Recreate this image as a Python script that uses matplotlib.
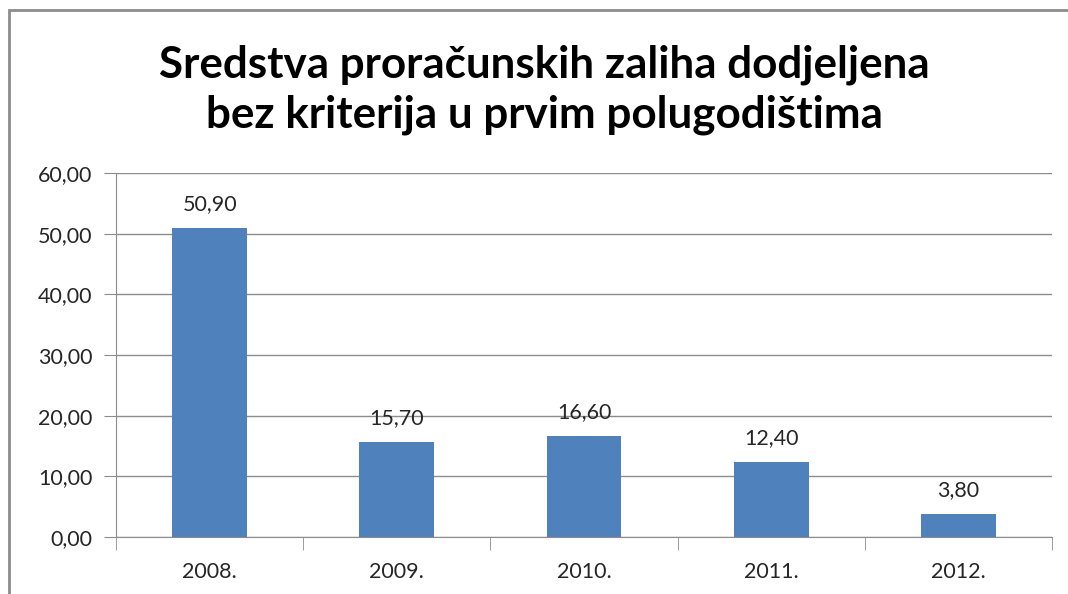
import matplotlib.pyplot as plt
from matplotlib.patches import Rectangle

years = ['2008.', '2009.', '2010.', '2011.', '2012.']
values = [50.90, 15.70, 16.60, 12.40, 3.80]
y_ticks = [0, 10, 20, 30, 40, 50, 60]

plt.rcParams['font.family'] = ['Lato', 'DejaVu Sans']

fig = plt.figure(figsize=(10.68, 5.94), dpi=100)
ax = fig.add_axes([116 / 1068, 1 - 537 / 594, 936 / 1068, 364 / 594])

x = range(len(years))
ax.bar(x, values, width=0.4, color='#4F81BD', zorder=3)

for xi, v in zip(x, values):
    ax.text(xi, v + 2.3, f'{v:.2f}'.replace('.', ','), ha='center', va='bottom',
            fontsize=15.5, color='#262626')

ax.set_xlim(-0.5, len(years) - 0.5)
ax.set_ylim(0, 60)
ax.set_yticks(y_ticks)
ax.set_yticklabels([f'{t:.2f}'.replace('.', ',') for t in y_ticks])
ax.set_xticks(list(x))
ax.set_xticklabels(years)
ax.set_xticks([i - 0.5 for i in range(len(years) + 1)], minor=True)

ax.grid(axis='y', color='#8c8c8c', linewidth=1, zorder=0)
for s in ['top', 'right']:
    ax.spines[s].set_visible(False)
for s in ['left', 'bottom']:
    ax.spines[s].set_color('#8c8c8c')
ax.tick_params(axis='y', length=9, color='#8c8c8c', labelsize=15.5, labelcolor='#262626', pad=8)
ax.tick_params(axis='x', which='major', length=0, labelsize=15.5, labelcolor='#262626', pad=18)
ax.tick_params(axis='x', which='minor', length=9, color='#8c8c8c')

fig.text(544 / 1068, 1 - 90 / 594, 'Sredstva proračunskih zaliha dodjeljena\nbez kriterija u prvim polugodištima',
         ha='center', va='center', fontsize=31.7, fontweight='bold', linespacing=1.3)

fig.patches.append(Rectangle((9 / 1068, -0.1), 1.2, 1 - 10 / 594 + 0.1, transform=fig.transFigure,
                             fill=False, edgecolor='#8c8c8c', linewidth=2))

fig.savefig('out.png', dpi=100)
